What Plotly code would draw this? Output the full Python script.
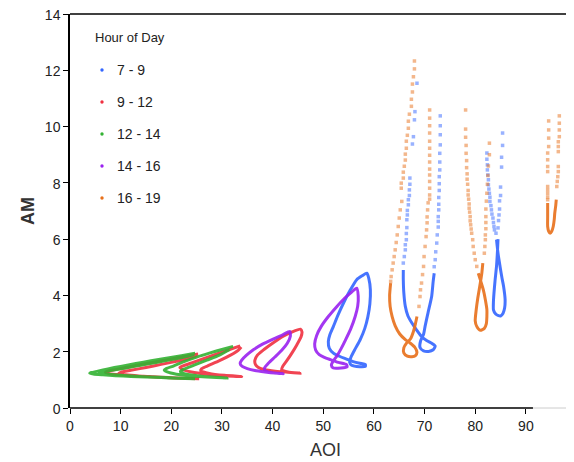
import plotly.graph_objects as go

# ---------------- data ----------------
groups = ["7 - 9", "9 - 12", "12 - 14", "14 - 16", "16 - 19"]
colors = {"7 - 9": "#3366ff", "9 - 12": "#f03040", "12 - 14": "#33b233",
          "14 - 16": "#9a22f0", "16 - 19": "#e8701a"}

# dense (continuous-looking) parts of each hourly loop
b1_aoi = [58.6, 57.7, 56.6, 55.3, 54.0, 52.9, 52.0, 51.3, 51.0, 51.2, 52.0, 53.3, 54.6, 55.9, 57.2, 58.3, 58.3, 57.2, 55.6, 55.2, 55.5, 56.3, 57.3, 58.2, 58.8, 59.2, 59.3, 59.0, 58.6]
b1_am = [4.79, 4.70, 4.56, 4.18, 3.73, 3.30, 2.90, 2.60, 2.36, 2.12, 1.95, 1.83, 1.74, 1.65, 1.59, 1.55, 1.48, 1.47, 1.52, 1.63, 1.82, 2.10, 2.43, 2.83, 3.24, 3.70, 4.20, 4.60, 4.79]
b2_aoi = [65.8, 65.8, 65.9, 66.2, 66.7, 67.5, 68.4, 69.4, 70.4, 71.4, 72.1, 71.7, 70.8, 69.8, 69.1, 69.2, 69.8, 70.1, 70.7, 71.4, 71.7, 71.9]
b2_am = [4.90, 4.56, 4.10, 3.61, 3.28, 3.02, 2.78, 2.54, 2.40, 2.30, 2.20, 2.07, 2.01, 2.03, 2.15, 2.38, 2.62, 2.90, 3.40, 3.96, 4.50, 4.79]
b3_aoi = [84.2, 84.5, 84.9, 85.3, 85.6, 85.9, 85.8, 85.5, 85.0, 84.6, 84.0, 83.6, 83.6, 83.7, 83.9, 84.2, 84.4, 84.5]
b3_am = [5.98, 5.50, 5.03, 4.60, 4.32, 3.85, 3.55, 3.37, 3.27, 3.28, 3.35, 3.49, 3.80, 4.08, 4.50, 5.03, 5.60, 6.00]

r1_aoi = [25.3, 22, 19, 16, 13, 10.5, 8.5, 7.2, 7.0, 7.8, 10, 13, 16, 19, 22, 25.5, 22.5, 19.5, 16.5, 13.5, 11, 9.6, 10, 12, 15, 18, 21, 23.5, 25.1]
r1_am = [1.92, 1.81, 1.71, 1.61, 1.51, 1.42, 1.35, 1.29, 1.26, 1.22, 1.18, 1.14, 1.11, 1.08, 1.06, 1.04, 1.06, 1.08, 1.11, 1.14, 1.18, 1.22, 1.27, 1.34, 1.44, 1.55, 1.66, 1.76, 1.87]
r2_aoi = [33.6, 31.5, 29, 26.5, 24, 22.3, 21.7, 22.3, 24, 27, 30, 33.9, 30.5, 27.5, 25.8, 26, 27.5, 29.5, 31.5, 33.2, 33.8]
r2_am = [2.21, 2.08, 1.92, 1.76, 1.60, 1.50, 1.44, 1.36, 1.28, 1.20, 1.15, 1.12, 1.16, 1.23, 1.33, 1.40, 1.52, 1.68, 1.86, 2.05, 2.17]
r3_aoi = [45.5, 43.8, 42.1, 40.2, 38.3, 37.0, 36.5, 36.6, 37.2, 38.5, 40.5, 43, 45.4, 43, 41.8, 42, 42.8, 43.8, 44.8, 45.6, 45.8, 45.5]
r3_am = [2.80, 2.70, 2.55, 2.33, 2.08, 1.88, 1.70, 1.55, 1.44, 1.36, 1.31, 1.27, 1.24, 1.28, 1.36, 1.48, 1.68, 1.95, 2.25, 2.52, 2.70, 2.80]

g1_aoi = [24.7, 22, 19, 16, 13, 10, 7.5, 5.5, 4.2, 3.9, 4.6, 6.5, 9, 12, 15, 18, 21, 24.7, 22, 19, 16, 13, 10, 7.5, 5.8, 6.2, 8, 11, 14, 17, 20, 22.5, 24.5]
g1_am = [1.95, 1.86, 1.77, 1.68, 1.58, 1.48, 1.39, 1.31, 1.26, 1.24, 1.21, 1.18, 1.15, 1.12, 1.10, 1.08, 1.06, 1.04, 1.06, 1.08, 1.10, 1.13, 1.16, 1.20, 1.24, 1.28, 1.33, 1.42, 1.52, 1.62, 1.72, 1.81, 1.90]
g2_aoi = [32.2, 30, 27.5, 25, 22.5, 20.5, 19, 18.6, 19.2, 21, 24, 27, 31, 28, 25, 22.5, 21.8, 22.5, 24.5, 27, 29.5, 31.5]
g2_am = [2.19, 2.08, 1.95, 1.81, 1.65, 1.50, 1.40, 1.35, 1.28, 1.20, 1.14, 1.10, 1.07, 1.10, 1.15, 1.22, 1.30, 1.38, 1.52, 1.70, 1.88, 2.08]

p1_aoi = [43.4, 42, 40.1, 38, 36.2, 34.8, 33.9, 33.6, 34.0, 35.0, 36.5, 38.5, 40.5, 42.1, 40, 38.6, 38.4, 39.2, 40.5, 41.8, 42.9, 43.5, 43.4]
p1_am = [2.72, 2.60, 2.45, 2.27, 2.07, 1.87, 1.70, 1.58, 1.48, 1.40, 1.33, 1.28, 1.24, 1.22, 1.25, 1.32, 1.42, 1.60, 1.82, 2.05, 2.30, 2.55, 2.72]
p2_aoi = [56.6, 55.6, 54.2, 52.7, 51.0, 49.6, 48.7, 48.3, 48.5, 49.2, 50.2, 51.4, 53.0, 54.6, 54.7, 53.5, 52.0, 51.6, 51.9, 52.7, 53.5, 54.4, 55.4, 56.3, 56.8, 56.9, 56.6]
p2_am = [4.26, 4.12, 3.90, 3.61, 3.25, 2.90, 2.58, 2.28, 2.06, 1.90, 1.80, 1.72, 1.62, 1.54, 1.46, 1.42, 1.42, 1.52, 1.65, 1.85, 2.10, 2.42, 2.80, 3.25, 3.62, 3.98, 4.26]

o1_aoi = [63.3, 63.1, 63.2, 63.6, 64.2, 65.1, 66.2, 67.2, 68.1, 68.5, 68.2, 67.5, 66.6, 65.9, 65.9, 66.4, 67.2, 67.8, 68.2, 68.5]
o1_am = [4.44, 4.00, 3.61, 3.25, 2.92, 2.63, 2.43, 2.30, 2.15, 1.98, 1.86, 1.82, 1.84, 1.96, 2.14, 2.30, 2.45, 2.72, 3.00, 3.25]
o2_aoi = [80.6, 81.0, 81.6, 82.0, 82.3, 82.3, 82.2, 81.8, 81.0, 80.3, 80.0, 80.2, 80.5, 81.0, 81.3, 81.5]
o2_am = [4.79, 4.56, 4.20, 3.85, 3.50, 3.25, 3.00, 2.83, 2.76, 2.90, 3.10, 3.50, 3.90, 4.44, 4.79, 5.15]
o3_aoi = [94.3, 94.3, 94.3, 94.3, 94.5, 94.8, 95.1, 95.4, 95.6, 95.7, 95.9, 96.0]
o3_am = [7.28, 7.16, 6.80, 6.45, 6.28, 6.21, 6.28, 6.45, 6.70, 6.92, 7.20, 7.40]

# sparse (dotted) parts
b2_dot_aoi = [68.5, 68.1, 68.0, 67.8, 67.6, 67.1, 67.1, 67.0, 67.0, 66.8, 66.8, 66.6, 66.6, 66.5, 66.5, 66.4, 66.4, 66.2, 66.2, 66.0, 65.8,
              73.1, 73.1, 73.1, 73.1, 73.0, 73.0, 73.0, 72.9, 72.9, 72.9, 72.8, 72.8, 72.8, 72.7, 72.7, 72.7, 72.5, 72.4, 72.2, 72.1, 71.9]
b2_dot_am = [11.54, 10.53, 10.24, 9.64, 9.38, 8.17, 7.95, 7.75, 7.55, 7.40, 7.22, 7.02, 6.86, 6.69, 6.41, 6.20, 5.98, 5.80, 5.62, 5.38, 5.15,
             10.38, 10.03, 9.71, 9.35, 9.05, 8.74, 8.46, 8.22, 7.97, 7.73, 7.48, 7.24, 7.04, 6.80, 6.63, 6.43, 6.15, 5.86, 5.55, 5.27, 5.02]
b3_dot_aoi = [82.3, 82.3, 82.4, 82.4, 82.5, 82.6, 82.6, 82.7, 82.8, 82.9, 82.9, 83.1, 83.2, 83.3, 83.5, 83.6, 83.7, 83.8, 84.1,
              85.4, 85.4, 85.2, 85.2, 85.0, 85.0, 84.8, 84.8, 84.7, 84.6, 84.5]
b3_dot_am = [9.06, 8.84, 8.64, 8.46, 8.28, 8.11, 7.93, 7.78, 7.63, 7.49, 7.34, 7.19, 7.04, 6.89, 6.75, 6.59, 6.45, 6.33, 6.21,
             9.77, 9.33, 8.91, 8.56, 7.85, 7.55, 7.36, 7.07, 6.86, 6.66, 6.40]
o1_dot_aoi = [68.0, 68.0, 67.8, 67.6, 67.6, 67.4, 67.4, 67.0, 66.8, 66.8, 66.6, 66.4, 66.4, 66.2, 66.2, 66.0, 65.8, 65.8, 65.4, 65.4,
              65.5, 65.2, 65.0, 64.8, 64.6, 64.4, 64.2, 64.0, 63.8, 63.6, 63.4, 63.3,
              71.0, 71.0, 71.0, 71.0, 71.0, 71.0, 71.0, 71.0, 71.0, 71.0, 71.0, 71.0, 71.0, 71.0, 70.7, 70.6, 70.5, 70.5,
              70.4, 70.3, 70.1, 69.9, 69.8, 69.6, 69.4, 69.2, 69.1, 68.9]
o1_dot_am = [12.33, 12.05, 11.77, 11.51, 11.23, 10.97, 10.72, 10.44, 10.19, 9.94, 9.69, 9.48, 9.23, 9.02, 8.81, 8.59, 8.38, 8.17, 7.99, 7.81,
             7.34, 7.04, 6.75, 6.45, 6.15, 5.88, 5.62, 5.38, 5.15, 4.91, 4.67, 4.50,
             10.59, 10.30, 10.03, 9.77, 9.48, 9.23, 8.98, 8.74, 8.49, 8.28, 8.05, 7.81, 7.57, 7.42, 7.29, 7.04, 6.79, 6.58,
             6.33, 6.09, 5.74, 5.38, 5.03, 4.74, 4.44, 4.20, 3.96, 3.61]
o2_dot_aoi = [78.1, 78.1, 78.1, 78.2, 78.2, 78.3, 78.3, 78.4, 78.4, 78.5, 78.6, 78.6, 78.7, 78.8, 78.8, 78.9, 79.0, 79.0, 79.1, 79.2,
              79.3, 79.5, 79.6, 79.8, 80.0, 80.3,
              82.8, 82.8, 82.6, 82.5, 82.4, 82.3, 82.2, 82.1, 82.1, 82.1, 82.1, 82.0, 82.0, 81.9, 81.8]
o2_dot_am = [10.59, 9.91, 9.62, 9.33, 9.05, 8.79, 8.54, 8.32, 8.13, 7.95, 7.73, 7.57, 7.42, 7.25, 7.10, 6.96, 6.80, 6.65, 6.51, 6.36,
             6.21, 5.98, 5.74, 5.50, 5.27, 5.03,
             9.41, 9.00, 8.60, 8.26, 7.95, 7.63, 7.35, 7.07, 6.80, 6.59, 6.37, 6.15, 5.98, 5.74, 5.50]
o3_dot_aoi = [94.5, 94.5, 94.5, 94.5, 94.3, 94.3, 94.3, 94.3, 94.3, 94.3, 94.3, 94.3, 94.3,
              96.6, 96.6, 96.6, 96.6, 96.4, 96.4, 96.4, 96.4, 96.4, 96.3, 96.2, 96.1]
o3_dot_am = [10.20, 9.88, 9.59, 9.29, 9.06, 8.82, 8.58, 8.40, 7.87, 7.75, 7.63, 7.50, 7.40,
             10.38, 10.12, 9.88, 9.64, 9.46, 9.29, 9.11, 8.58, 8.40, 8.22, 8.05, 7.87]

x_ticks = [0, 10, 20, 30, 40, 50, 60, 70, 80, 90]
y_ticks = [0, 2, 4, 6, 8, 10, 12, 14]

dense = [("7 - 9", b1_aoi, b1_am), ("7 - 9", b2_aoi, b2_am), ("7 - 9", b3_aoi, b3_am),
         ("9 - 12", r3_aoi, r3_am), ("9 - 12", r2_aoi, r2_am), ("9 - 12", r1_aoi, r1_am),
         ("12 - 14", g1_aoi, g1_am), ("12 - 14", g2_aoi, g2_am),
         ("14 - 16", p1_aoi, p1_am), ("14 - 16", p2_aoi, p2_am),
         ("16 - 19", o1_aoi, o1_am), ("16 - 19", o2_aoi, o2_am), ("16 - 19", o3_aoi, o3_am)]
dots = [("7 - 9", b2_dot_aoi, b2_dot_am), ("7 - 9", b3_dot_aoi, b3_dot_am),
        ("16 - 19", o1_dot_aoi, o1_dot_am), ("16 - 19", o2_dot_aoi, o2_dot_am),
        ("16 - 19", o3_dot_aoi, o3_dot_am)]

# ---------------- figure ----------------
# the page body has an 8px margin, so the figure is 8px smaller than the window
OFF = 8
W, H = 574 - OFF, 462 - OFF
ML, MR, MT, MB = 70 - OFF, 0, 14 - OFF, 54
PW, PH = W - ML - MR, H - MT - MB


def px2paper(px, py):
    """window pixel -> paper coordinate"""
    fx, fy = px - OFF, py - OFF
    return (fx - ML) / PW, (H - MB - fy) / PH


fig = go.Figure()
FONT = "Liberation Sans, Arial, sans-serif"

for g, xs, ys in dots:
    fig.add_trace(go.Scatter(x=xs, y=ys, mode="markers", showlegend=False, hoverinfo="skip",
                             marker=dict(size=3.5, color=colors[g], opacity=0.5, symbol="square")))
for g, xs, ys in dense:
    fig.add_trace(go.Scatter(x=xs, y=ys, mode="lines", showlegend=False, hoverinfo="skip",
                             line=dict(color=colors[g], width=3, shape="spline", smoothing=0.6),
                             opacity=0.9))

annotations = []
shapes = [
    dict(type="line", xref="x", yref="paper", x0=0, x1=91.4, y0=0, y1=0,
         line=dict(color="black", width=1.5)),
    dict(type="line", xref="x", yref="paper", x0=91.4, x1=99.5, y0=0, y1=0,
         line=dict(color="#cccccc", width=1)),
    dict(type="line", xref="paper", yref="paper", x0=0, x1=1, y0=1, y1=1,
         line=dict(color="black", width=1.5)),
]

# legend (drawn in paper coordinates)
tx, ty = px2paper(93, 38)
annotations.append(dict(text="Hour of Day", x=tx, y=ty, xref="paper", yref="paper",
                        xanchor="left", yanchor="middle", showarrow=False,
                        font=dict(size=13, color="#222", family=FONT)))
for i, g in enumerate(groups):
    cy = 70 + 32 * i
    lx, ly = px2paper(115, cy)
    annotations.append(dict(text=g, x=lx, y=ly, xref="paper", yref="paper",
                            xanchor="left", yanchor="middle", showarrow=False,
                            font=dict(size=14, color="#222", family=FONT)))
    x0, y0 = px2paper(100.3, cy + 1.7)
    x1, y1 = px2paper(103.7, cy - 1.7)
    shapes.append(dict(type="circle", xref="paper", yref="paper", x0=x0, x1=x1, y0=y0, y1=y1,
                       fillcolor=colors[g], line=dict(width=0)))

# axis titles
ax, ay = px2paper(325, 450)
annotations.append(dict(text="AOI", x=ax, y=ay, xref="paper", yref="paper",
                        xanchor="center", yanchor="middle", showarrow=False,
                        font=dict(size=18, color="#333", family=FONT)))
mx, my = px2paper(28, 211)
annotations.append(dict(text="<b>AM</b>", x=mx, y=my, xref="paper", yref="paper",
                        xanchor="center", yanchor="middle", showarrow=False, textangle=-90,
                        font=dict(size=18, color="#333", family=FONT)))

fig.update_layout(
    width=W, height=H,
    margin=dict(l=ML, r=MR, t=MT, b=MB, autoexpand=False),
    paper_bgcolor="white", plot_bgcolor="white",
    font=dict(family=FONT, size=13, color="#222"),
    showlegend=False,
    xaxis=dict(range=[0, 99.5], tickvals=x_ticks, showgrid=False, zeroline=False,
               showline=False, ticks="outside", ticklen=5, tickcolor="black",
               tickfont=dict(size=14, color="#222"), automargin=False,
               ticklabeloverflow="allow"),
    yaxis=dict(range=[0, 14], tickvals=y_ticks, showgrid=False, zeroline=False,
               showline=True, linecolor="black", linewidth=1.5, ticks="outside", ticklen=5,
               tickcolor="black", tickfont=dict(size=14, color="#222"), automargin=False,
               ticklabeloverflow="allow", ticklabelshift=1),
    shapes=shapes,
    annotations=annotations,
)

fig.write_html("out.html")
